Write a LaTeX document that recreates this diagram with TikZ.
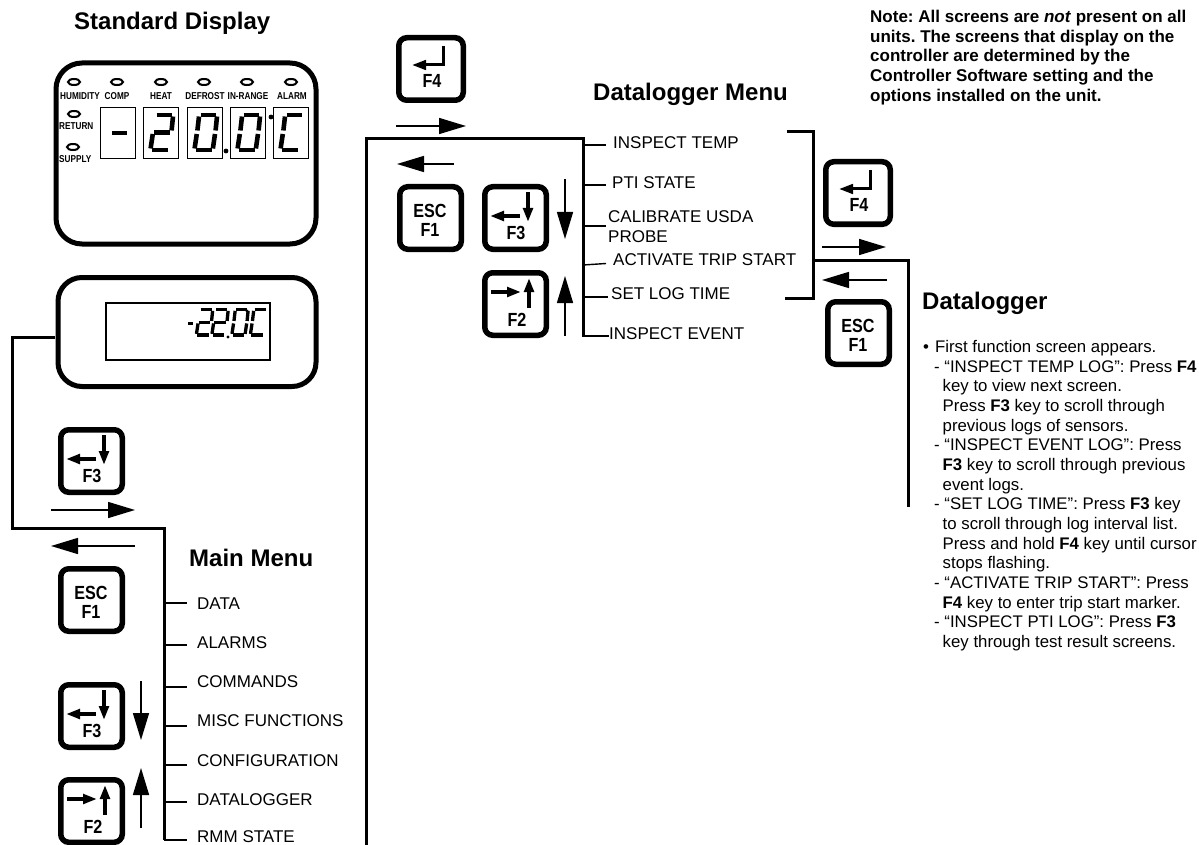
\documentclass[tikz,border=0pt]{standalone}
\usepackage{fontspec}
\setmainfont{Liberation Sans}
\usetikzlibrary{arrows.meta,shapes.geometric}

\tikzset{
  keybox/.style={draw,line width=5.5pt,rounded corners=8pt,minimum width=61.5pt,minimum height=62.5pt,inner sep=0pt},
  keyname/.style={inner sep=0pt,font=\fontsize{19}{19}\bfseries},
  inkey/.style={-{Triangle[length=14pt,width=9.5pt]},line width=4pt},
  bigarrow/.style={-{Triangle[length=27pt,width=16pt]},line width=1.5pt},
  trunk/.style={line width=3pt},
  stem/.style={line width=2.6pt},
  menuitem/.style={inner sep=0pt,anchor=west,font=\fontsize{17}{20}\selectfont,align=left},
  heading/.style={inner sep=0pt,anchor=west,font=\fontsize{24}{26}\bfseries},
  lamp/.style={draw,ellipse,line width=2pt,minimum width=12pt,minimum height=6pt,inner sep=0pt},
  lamptext/.style={inner sep=0pt,font=\fontsize{10}{10}\bfseries},
  digitbox/.style={draw,line width=1.5pt,minimum width=35pt,minimum height=51pt,inner sep=0pt},
}
\newcommand{\narrow}[1]{\scalebox{.82}[1]{#1}}
\newcommand{\keytext}[1]{\scalebox{.85}[1]{#1}}

% seven segments: a top, b,c right, d bottom, e,f left, g middle
\newcommand{\sega}{\draw (13.5,8) -- (29,8);}
\newcommand{\segb}{\draw (30,9.5) -- (28.6,23.5);}
\newcommand{\segc}{\draw (28,27) -- (25.9,41.5);}
\newcommand{\segd}{\draw (9,43) -- (24.5,43);}
\newcommand{\sege}{\draw (9.8,27) -- (7.6,41.5);}
\newcommand{\segf}{\draw (12,9.5) -- (10.4,23.5);}
\newcommand{\segg}{\draw (11,25.3) -- (27,25.3);}
\newcommand{\sevenseg}[4]{%
  \begin{scope}[shift={(#1,#2)},x=#3pt,y=-#3pt,line width=#3*4.6pt]
    \foreach \seg in {#4}{\csname seg\seg\endcsname}
  \end{scope}}

% keys, given by the top left corner of the outline
\newcommand{\keydown}[3]{%
  \node[keybox,anchor=north west] (#1) at (#2,#3) {};
  \node[keyname] (#1t) at (#2+34,#3+49) {\keytext{F3}};
  \coordinate (#1a) at (#2+46,#3+8);
  \coordinate (#1b) at (#2+46,#3+38);
  \coordinate (#1c) at (#2+38,#3+32);
  \coordinate (#1d) at (#2+8,#3+32);
  \draw[inkey] (#1a) -- (#1b);
  \draw[inkey] (#1c) -- (#1d);}
\newcommand{\keyup}[3]{%
  \node[keybox,anchor=north west] (#1) at (#2,#3) {};
  \node[keyname] (#1t) at (#2+35,#3+50) {\keytext{F2}};
  \coordinate (#1a) at (#2+47,#3+38);
  \coordinate (#1b) at (#2+47,#3+8);
  \coordinate (#1c) at (#2+9,#3+22);
  \coordinate (#1d) at (#2+39,#3+22);
  \draw[inkey] (#1a) -- (#1b);
  \draw[inkey] (#1c) -- (#1d);}
\newcommand{\keyesc}[3]{%
  \node[keybox,anchor=north west] (#1) at (#2,#3) {};
  \node[keyname] (#1t) at (#2+33,#3+27) {\keytext{ESC}};
  \node[keyname] (#1u) at (#2+33,#3+46) {\keytext{F1}};}
\newcommand{\keyenter}[3]{%
  \node[keybox,anchor=north west,minimum width=64.5pt] (#1) at (#2,#3) {};
  \node[keyname] (#1t) at (#2+36,#3+46) {\keytext{F4}};
  \coordinate (#1a) at (#2+47,#3+11);
  \coordinate (#1b) at (#2+47,#3+30);
  \coordinate (#1c) at (#2+16,#3+30);
  \draw[-{Triangle[length=14pt,width=9.5pt]},line width=3pt] (#1a) -- (#1b) -- (#1c);}

\begin{document}
\begin{tikzpicture}[x=1pt,y=-1pt,line join=miter]
\useasboundingbox (0,0) rectangle (1199,845);

% headings
\node[heading] (stdhead) at (74,23) {Standard Display};
\node[heading] (dlmenuhead) at (593,94) {Datalogger Menu};
\node[heading] (mainhead) at (189,558) {Main Menu};
\node[heading] (dloghead) at (922,303) {Datalogger};

% note
\node[inner sep=0pt,anchor=north west,align=left,font=\fontsize{17}{19.7}\bfseries\frenchspacing] (note) at (870,10) {Note: All screens are \textit{not} present on all\\units. The screens that display on the\\controller are determined by the\\Controller Software setting and the\\options installed on the unit.};

% standard display
\draw[line width=5pt,rounded corners=26pt] (56,63) rectangle (316,244);
\foreach \x/\y/\n in {74/82/a,117/82/b,161/82/c,204/82/d,247/82/e,291/82/f,74/114/g,73/147/h}
  \node[lamp] (lamp\n) at (\x,\y) {};
\node[lamptext] (humid) at (80,96) {\narrow{HUMIDITY}};
\node[lamptext] (comp) at (117,96) {\narrow{COMP}};
\node[lamptext] (heat) at (161,96) {\narrow{HEAT}};
\node[lamptext] (defr) at (205,96) {\narrow{DEFROST}};
\node[lamptext] (inrg) at (248,96) {\narrow{IN-RANGE}};
\node[lamptext] (alarm) at (292,96) {\narrow{ALARM}};
\node[lamptext,anchor=west] (ret) at (59,126) {\narrow{RETURN}};
\node[lamptext,anchor=west] (sup) at (59,159) {\narrow{SUPPLY}};
\foreach \x/\n in {118/a,161/b,205/c,248/d,291/e}
  \node[digitbox] (digit\n) at (\x,133) {};
\draw[line width=4.5pt] (112,133) -- (127,133);
\sevenseg{143}{107}{1}{a,b,g,e,d}
\sevenseg{187}{107}{1}{a,b,c,d,e,f}
\sevenseg{230}{107}{1}{a,b,c,d,e,f}
\sevenseg{273}{107}{1}{a,f,e,d}
\fill (226,151) circle (2.4pt) (271,117) circle (2.4pt);

% second display
\draw[line width=5pt,rounded corners=24pt] (58,277.5) rectangle (316,386.5);
\node[draw,line width=1.5pt,minimum width=164pt,minimum height=57pt,inner sep=0pt,anchor=north west] (lcd) at (105,302) {};
\draw[line width=3pt] (188,323) -- (193,323);
\sevenseg{191}{304}{.72}{a,b,g,e,d}
\sevenseg{206.5}{304}{.72}{a,b,g,e,d}
\sevenseg{226.5}{304}{.72}{a,b,c,d,e,f}
\sevenseg{245}{304}{.72}{a,f,e,d}
\fill (228,337) circle (1.7pt) (247,311) circle (1.7pt);

% left keys
\keydown{keyA}{58}{427}
\keyesc{keyB}{58}{566}
\keydown{keyC}{58}{682}
\keyup{keyD}{58}{777}

\coordinate (dispout) at (55,337);
\coordinate (mainc1) at (12,337);
\coordinate (mainc2) at (12,528);
\coordinate (mainc3) at (164,528);
\coordinate (mainc4) at (164,840);
\draw[trunk] (dispout) -- (mainc1) -- (mainc2) -- (mainc3) -- (mainc4);

\coordinate (ra1) at (51,510);
\coordinate (ra2) at (135,510);
\coordinate (la1) at (135,546);
\coordinate (la2) at (51,546);
\coordinate (da1) at (141,681);
\coordinate (da2) at (141,740);
\coordinate (ua1) at (141,828);
\coordinate (ua2) at (141,768);
\draw[bigarrow] (ra1) -- (ra2);
\draw[bigarrow] (la1) -- (la2);
\draw[bigarrow] (da1) -- (da2);
\draw[bigarrow] (ua1) -- (ua2);

% main menu
\foreach \y/\n/\ty/\t in {603/a/604/DATA,645/b/643/ALARMS,687/c/682/COMMANDS,726/d/721/MISC FUNCTIONS,765/e/761/CONFIGURATION,802/f/800/DATALOGGER,840/g/837/RMM STATE}{
  \coordinate (mm\n) at (164,\y);
  \node[menuitem] (mt\n) at (197,\ty) {\t};
  \draw[stem] (mm\n) -- ([xshift=23pt]mm\n);
}

% datalogger menu
\keyenter{keyE}{396}{35}
\keyesc{keyF}{397}{184}
\keydown{keyG}{482}{184}
\keyup{keyH}{482}{270}

\coordinate (dlc1) at (366,845);
\coordinate (dlc2) at (366,139);
\coordinate (dlc3) at (583,139);
\coordinate (dlc4) at (583,337);
\draw[trunk] (dlc1) -- (dlc2) -- (dlc3) -- (dlc4);

\coordinate (rb1) at (396,126);
\coordinate (rb2) at (466,126);
\coordinate (lb1) at (454,164);
\coordinate (lb2) at (397,164);
\coordinate (db1) at (565,179);
\coordinate (db2) at (565,239);
\coordinate (ub1) at (565,336);
\coordinate (ub2) at (565,276);
\draw[bigarrow] (rb1) -- (rb2);
\draw[bigarrow] (lb1) -- (lb2);
\draw[bigarrow] (db1) -- (db2);
\draw[bigarrow] (ub1) -- (ub2);

\foreach \y/\e/\n/\l/\ty/\t in {145/606/a/613/143/INSPECT TEMP,185/606/b/612/183/PTI STATE,226/606/c/608/227/{CALIBRATE USDA\\PROBE},297/608/e/611/294/SET LOG TIME,336/609/f/609/334/INSPECT EVENT}{
  \coordinate (dm\n) at (583,\y);
  \coordinate (dn\n) at (\e,\y);
  \node[menuitem] (dt\n) at (\l,\ty) {\t};
  \draw[stem] (dm\n) -- (dn\n);
}
\coordinate (dmd) at (583,265);
\coordinate (dnd) at (606,263.5);
\node[menuitem] (dtd) at (613,260) {ACTIVATE TRIP START};
\draw[line width=1.4pt] (dmd) -- (dnd);

% bracket and branch
\coordinate (brk1) at (787,132);
\coordinate (brk2) at (813,132);
\coordinate (brk3) at (813,298);
\coordinate (brk4) at (785,298);
\draw[trunk] (brk1) -- (brk2) -- (brk3) -- (brk4);
\coordinate (brc1) at (813,260);
\coordinate (brc2) at (908,260);
\coordinate (brc3) at (908,507);
\draw[trunk] (brc1) -- (brc2) -- (brc3);

\keyenter{keyJ}{823}{159}
\keyesc{keyK}{825}{299}
\coordinate (rc1) at (822,247);
\coordinate (rc2) at (886,247);
\coordinate (lc1) at (887,280);
\coordinate (lc2) at (822,280);
\draw[bigarrow] (rc1) -- (rc2);
\draw[bigarrow] (lc1) -- (lc2);

% datalogger text
\node[inner sep=0pt,anchor=north west,align=left,font=\fontsize{16.8}{19.67}\selectfont] (dlogtext) at (923,340) {\textbullet\hspace{6pt}First function screen appears.\\
\hspace*{11pt}- “INSPECT TEMP LOG”: Press \textbf{F4}\\
\hspace*{19.5pt}key to view next screen.\\
\hspace*{19.5pt}Press \textbf{F3} key to scroll through\\
\hspace*{19.5pt}previous logs of sensors.\\
\hspace*{11pt}- “INSPECT EVENT LOG”: Press\\
\hspace*{19.5pt}\textbf{F3} key to scroll through previous\\
\hspace*{19.5pt}event logs.\\
\hspace*{11pt}- “SET LOG TIME”: Press \textbf{F3} key\\
\hspace*{19.5pt}to scroll through log interval list.\\
\hspace*{19.5pt}Press and hold \textbf{F4} key until cursor\\
\hspace*{19.5pt}stops flashing.\\
\hspace*{11pt}- “ACTIVATE TRIP START”: Press\\
\hspace*{19.5pt}\textbf{F4} key to enter trip start marker.\\
\hspace*{11pt}- “INSPECT PTI LOG”: Press \textbf{F3}\\
\hspace*{19.5pt}key through test result screens.};
\end{tikzpicture}
\end{document}
